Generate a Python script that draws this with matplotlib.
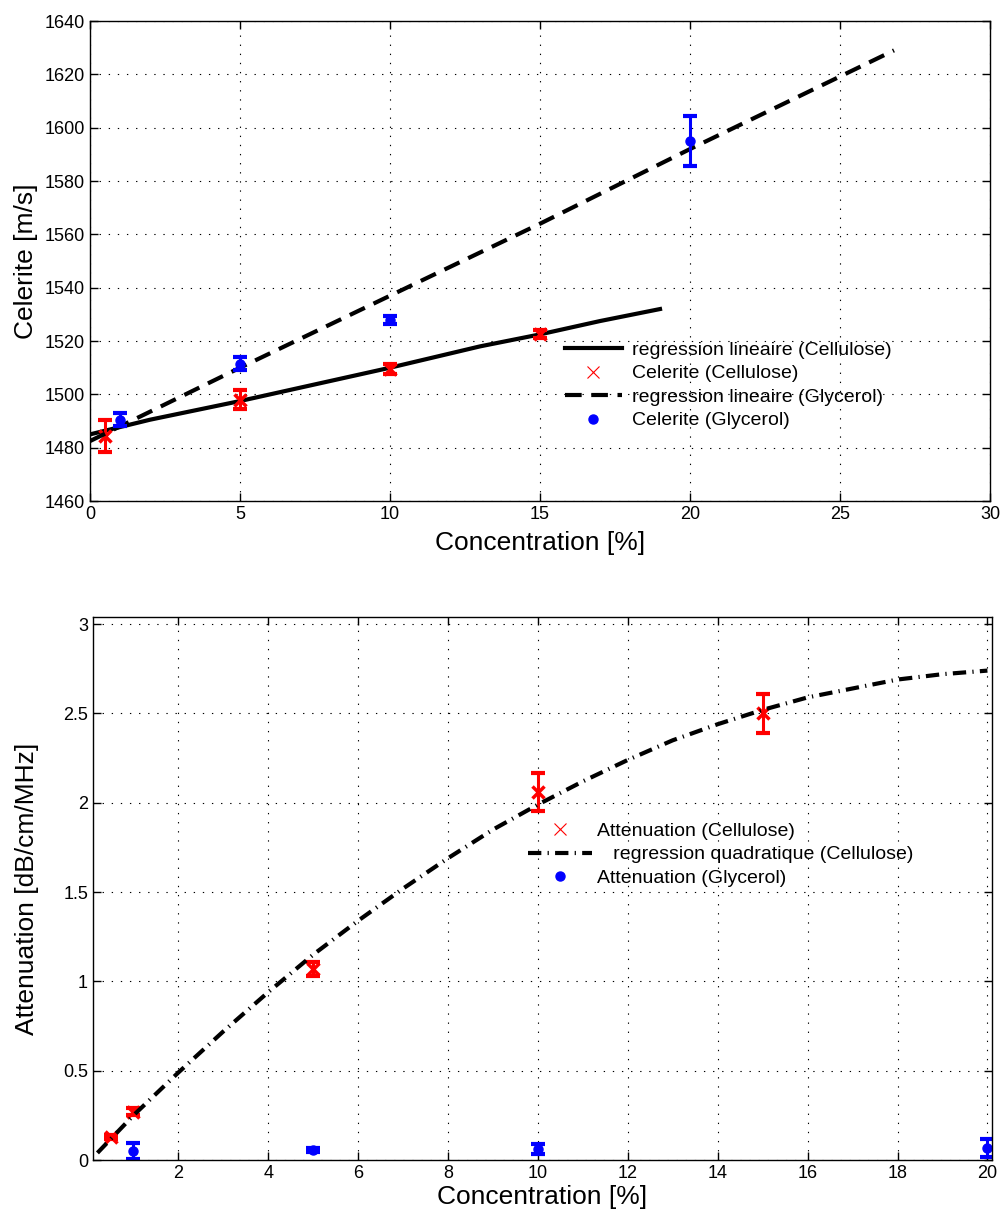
import numpy as np
import matplotlib
matplotlib.use("Agg")
import matplotlib.pyplot as plt

matplotlib.rcParams['font.family'] = ['Liberation Sans', 'DejaVu Sans']

# celerite (top)
cel_cell_x = [0.5, 5, 10, 15]
cel_cell_y = [1484.5, 1498.0, 1509.5, 1522.5]
cel_cell_err = [6.0, 3.5, 2.0, 1.5]

cel_gly_x = [1, 5, 10, 20]
cel_gly_y = [1490.5, 1511.5, 1528.0, 1595.0]
cel_gly_err = [2.5, 2.4, 1.5, 9.5]

reg_cell_x = [0, 2, 5, 8, 10, 13, 15, 17, 19]
reg_cell_y = [1485.0, 1490.5, 1497.5, 1505.0, 1510.0, 1518.0, 1522.5, 1527.5, 1532.0]

reg_gly_x = [0, 5, 10, 15, 20, 26.8]
reg_gly_y = [1482.5, 1510.0, 1537.0, 1564.0, 1592.0, 1629.0]

# attenuation (bottom)
att_cell_x = [0.5, 1, 5, 10, 15]
att_cell_y = [0.13, 0.27, 1.07, 2.06, 2.50]
att_cell_err = [0.012, 0.02, 0.04, 0.105, 0.11]

att_gly_x = [1, 5, 10, 20]
att_gly_y = [0.05, 0.055, 0.062, 0.068]
att_gly_err = [0.043, 0.01, 0.027, 0.05]

quad_x = [0.2, 1, 2, 3, 4, 5, 6, 7, 8, 9, 10, 11, 12, 13, 14, 15, 16, 17, 18, 19, 20]
quad_y = [0.04, 0.25, 0.49, 0.72, 0.94, 1.15, 1.34, 1.52, 1.69, 1.85, 1.99, 2.12,
          2.24, 2.35, 2.44, 2.52, 2.59, 2.64, 2.69, 2.72, 2.74]

dash = (0, (4, 2.3))
dashdot = (0, (3.2, 1.5, 0.3, 1.5))

fig = plt.figure(figsize=(10.06, 12.17), dpi=100)
ax1 = fig.add_axes([0.0895, 0.5883, 0.8946, 0.3944])
ax2 = fig.add_axes([0.0924, 0.0468, 0.8936, 0.4462])


def style(ax):
    ax.grid(True, linestyle=(0, (1.2, 7)), color='black', linewidth=0.8)
    ax.tick_params(direction='in', top=True, right=True, labelsize=13, length=6, width=1)
    for s in ax.spines.values():
        s.set_linewidth(1.0)
    ax.set_axisbelow(True)


# ---- top
style(ax1)
ax1.plot(reg_cell_x, reg_cell_y, color='black', lw=3)
ax1.errorbar(cel_cell_x, cel_cell_y, yerr=cel_cell_err, fmt='none', ecolor='red',
             elinewidth=2.2, capsize=5, capthick=3)
ax1.plot(cel_cell_x, cel_cell_y, 'x', color='red', ms=8, mew=2.5)
ax1.plot(reg_gly_x, reg_gly_y, color='black', lw=3, linestyle=dash)
ax1.errorbar(cel_gly_x, cel_gly_y, yerr=cel_gly_err, fmt='none', ecolor='blue',
             elinewidth=2.2, capsize=5, capthick=3)
ax1.plot(cel_gly_x, cel_gly_y, 'o', color='blue', ms=6.5)
ax1.set_xlim(0, 30)
ax1.set_ylim(1460, 1640)
ax1.set_xticks(np.arange(0, 31, 5))
ax1.set_yticks(np.arange(1460, 1641, 20))
ax1.set_xlabel('Concentration [%]', fontsize=19, labelpad=6)
ax1.set_ylabel('Celerite [m/s]', fontsize=19, labelpad=5)

h1, = ax1.plot([], [], color='black', lw=3)
h2, = ax1.plot([], [], 'x', color='red', ms=9, mew=0.8)
h3, = ax1.plot([], [], color='black', lw=3, linestyle=dash)
h4, = ax1.plot([], [], 'o', color='blue', ms=6.5)
ax1.legend([h1, h2, h3, h4],
           ['regression lineaire (Cellulose)', 'Celerite (Cellulose)',
            'regression lineaire (Glycerol)', 'Celerite (Glycerol)'],
           loc='upper left', bbox_to_anchor=(0.508, 0.369), frameon=False,
           fontsize=14, handlelength=2.95, handletextpad=0.5, labelspacing=0.3)

# ---- bottom
style(ax2)
ax2.errorbar(att_cell_x, att_cell_y, yerr=att_cell_err, fmt='none', ecolor='red',
             elinewidth=2.2, capsize=5, capthick=3)
ax2.plot(att_cell_x, att_cell_y, 'x', color='red', ms=8, mew=2.5)
ax2.plot(quad_x, quad_y, color='black', lw=3, linestyle=dashdot)
ax2.errorbar(att_gly_x, att_gly_y, yerr=att_gly_err, fmt='none', ecolor='blue',
             elinewidth=2.2, capsize=5, capthick=3)
ax2.plot(att_gly_x, att_gly_y, 'o', color='blue', ms=6.5)
ax2.set_xlim(0.1, 20.1)
ax2.set_ylim(0, 3.04)
ax2.set_xticks(np.arange(2, 21, 2))
ax2.set_yticks(np.arange(0, 3.01, 0.5))
ax2.set_yticklabels(['0', '0.5', '1', '1.5', '2', '2.5', '3'])
ax2.set_xlabel('Concentration [%]', fontsize=19, labelpad=2)
ax2.set_ylabel('Attenuation [dB/cm/MHz]', fontsize=19, labelpad=17)

g1, = ax2.plot([], [], 'x', color='red', ms=9, mew=0.8)
g2, = ax2.plot([], [], color='black', lw=3, linestyle=dashdot)
g3, = ax2.plot([], [], 'o', color='blue', ms=6.5)
ax2.legend([g1, g2, g3],
           ['Attenuation (Cellulose)', '   regression quadratique (Cellulose)',
            'Attenuation (Glycerol)'],
           loc='upper left', bbox_to_anchor=(0.464, 0.654), frameon=False,
           fontsize=14, handlelength=3.3, handletextpad=0.25, labelspacing=0.3)

fig.savefig('out.png', dpi=100)
